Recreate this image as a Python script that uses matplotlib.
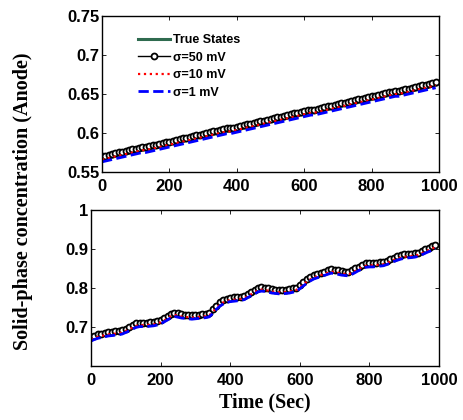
import numpy as np
import matplotlib.pyplot as plt

# ------------------------------------------------------------
# Data (one sample every 10 s)
# ------------------------------------------------------------
time_s = np.arange(0, 1000, 10)

# top panel
top_true = [
    0.566, 0.567, 0.568, 0.569, 0.570, 0.571, 0.572, 0.573, 0.574, 0.575,
    0.576, 0.577, 0.578, 0.578, 0.579, 0.580, 0.581, 0.582, 0.583, 0.584,
    0.585, 0.586, 0.587, 0.588, 0.589, 0.590, 0.591, 0.592, 0.593, 0.594,
    0.595, 0.596, 0.597, 0.598, 0.599, 0.600, 0.601, 0.602, 0.602, 0.603,
    0.604, 0.605, 0.606, 0.607, 0.608, 0.609, 0.610, 0.611, 0.612, 0.613,
    0.614, 0.615, 0.616, 0.617, 0.618, 0.619, 0.620, 0.621, 0.622, 0.623,
    0.624, 0.625, 0.626, 0.626, 0.627, 0.628, 0.629, 0.630, 0.631, 0.632,
    0.633, 0.634, 0.635, 0.636, 0.637, 0.638, 0.639, 0.640, 0.641, 0.642,
    0.643, 0.644, 0.645, 0.646, 0.647, 0.648, 0.649, 0.650, 0.650, 0.651,
    0.652, 0.653, 0.654, 0.655, 0.656, 0.657, 0.658, 0.659, 0.660, 0.661,
]
top_sig50 = [
    0.570, 0.571, 0.572, 0.573, 0.574, 0.575, 0.576, 0.577, 0.578, 0.579,
    0.580, 0.581, 0.582, 0.582, 0.583, 0.584, 0.585, 0.586, 0.587, 0.588,
    0.589, 0.590, 0.591, 0.592, 0.593, 0.594, 0.595, 0.596, 0.597, 0.598,
    0.599, 0.600, 0.601, 0.602, 0.603, 0.604, 0.605, 0.606, 0.606, 0.607,
    0.608, 0.609, 0.610, 0.611, 0.612, 0.613, 0.614, 0.615, 0.616, 0.617,
    0.618, 0.619, 0.620, 0.621, 0.622, 0.623, 0.624, 0.625, 0.626, 0.627,
    0.628, 0.629, 0.630, 0.630, 0.631, 0.632, 0.633, 0.634, 0.635, 0.636,
    0.637, 0.638, 0.639, 0.640, 0.641, 0.642, 0.643, 0.644, 0.645, 0.646,
    0.647, 0.648, 0.649, 0.650, 0.651, 0.652, 0.653, 0.654, 0.654, 0.655,
    0.656, 0.657, 0.658, 0.659, 0.660, 0.661, 0.662, 0.663, 0.664, 0.665,
]
top_sig10 = top_true
top_sig1 = [
    0.563, 0.564, 0.565, 0.566, 0.567, 0.568, 0.569, 0.570, 0.571, 0.572,
    0.573, 0.574, 0.575, 0.575, 0.576, 0.577, 0.578, 0.579, 0.580, 0.581,
    0.582, 0.583, 0.584, 0.585, 0.586, 0.587, 0.588, 0.589, 0.590, 0.591,
    0.592, 0.593, 0.594, 0.595, 0.596, 0.597, 0.598, 0.599, 0.599, 0.600,
    0.601, 0.602, 0.603, 0.604, 0.605, 0.606, 0.607, 0.608, 0.609, 0.610,
    0.611, 0.612, 0.613, 0.614, 0.615, 0.616, 0.617, 0.618, 0.619, 0.620,
    0.621, 0.622, 0.623, 0.623, 0.624, 0.625, 0.626, 0.627, 0.628, 0.629,
    0.630, 0.631, 0.632, 0.633, 0.634, 0.635, 0.636, 0.637, 0.638, 0.639,
    0.640, 0.641, 0.642, 0.643, 0.644, 0.645, 0.646, 0.647, 0.647, 0.648,
    0.649, 0.650, 0.651, 0.652, 0.653, 0.654, 0.655, 0.656, 0.657, 0.658,
]

# bottom panel
bot_true = [
    0.668, 0.672, 0.675, 0.677, 0.679, 0.681, 0.682, 0.683, 0.684, 0.686,
    0.690, 0.694, 0.699, 0.703, 0.705, 0.705, 0.705, 0.706, 0.707, 0.709,
    0.712, 0.717, 0.722, 0.728, 0.731, 0.729, 0.727, 0.726, 0.725, 0.724,
    0.725, 0.726, 0.727, 0.728, 0.730, 0.739, 0.749, 0.757, 0.763, 0.767,
    0.769, 0.770, 0.771, 0.772, 0.774, 0.779, 0.784, 0.789, 0.794, 0.796,
    0.795, 0.793, 0.791, 0.790, 0.789, 0.789, 0.790, 0.791, 0.793, 0.795,
    0.802, 0.809, 0.816, 0.822, 0.827, 0.830, 0.833, 0.836, 0.839, 0.842,
    0.841, 0.839, 0.837, 0.836, 0.835, 0.839, 0.844, 0.849, 0.854, 0.857,
    0.858, 0.858, 0.859, 0.860, 0.861, 0.864, 0.868, 0.872, 0.875, 0.878,
    0.880, 0.881, 0.882, 0.883, 0.885, 0.889, 0.893, 0.897, 0.901, 0.905,
]
bot_sig50 = [
    0.674, 0.678, 0.681, 0.683, 0.685, 0.687, 0.688, 0.689, 0.690, 0.692,
    0.696, 0.700, 0.705, 0.709, 0.711, 0.711, 0.711, 0.712, 0.713, 0.715,
    0.718, 0.723, 0.728, 0.734, 0.737, 0.735, 0.733, 0.732, 0.731, 0.730,
    0.731, 0.732, 0.733, 0.734, 0.736, 0.745, 0.755, 0.763, 0.769, 0.773,
    0.775, 0.776, 0.777, 0.778, 0.780, 0.785, 0.790, 0.795, 0.800, 0.802,
    0.801, 0.799, 0.797, 0.796, 0.795, 0.795, 0.796, 0.797, 0.799, 0.801,
    0.808, 0.815, 0.822, 0.828, 0.833, 0.836, 0.839, 0.842, 0.845, 0.848,
    0.847, 0.845, 0.843, 0.842, 0.841, 0.845, 0.850, 0.855, 0.860, 0.863,
    0.864, 0.864, 0.865, 0.866, 0.867, 0.870, 0.874, 0.878, 0.881, 0.884,
    0.886, 0.887, 0.888, 0.889, 0.891, 0.895, 0.899, 0.903, 0.907, 0.911,
]
bot_sig10 = bot_true
bot_sig1 = [
    0.664, 0.668, 0.671, 0.673, 0.675, 0.677, 0.678, 0.679, 0.680, 0.682,
    0.686, 0.690, 0.695, 0.699, 0.701, 0.701, 0.701, 0.702, 0.703, 0.705,
    0.708, 0.713, 0.718, 0.724, 0.727, 0.725, 0.723, 0.722, 0.721, 0.720,
    0.721, 0.722, 0.723, 0.724, 0.726, 0.735, 0.745, 0.753, 0.759, 0.763,
    0.765, 0.766, 0.767, 0.768, 0.770, 0.775, 0.780, 0.785, 0.790, 0.792,
    0.791, 0.789, 0.787, 0.786, 0.785, 0.785, 0.786, 0.787, 0.789, 0.791,
    0.798, 0.805, 0.812, 0.818, 0.823, 0.826, 0.829, 0.832, 0.835, 0.838,
    0.837, 0.835, 0.833, 0.832, 0.831, 0.835, 0.840, 0.845, 0.850, 0.853,
    0.854, 0.854, 0.855, 0.856, 0.857, 0.860, 0.864, 0.868, 0.871, 0.874,
    0.876, 0.877, 0.878, 0.879, 0.881, 0.885, 0.889, 0.893, 0.897, 0.901,
]

series_labels = ["True States", "σ=50 mV", "σ=10 mV", "σ=1 mV"]
x_ticks = [0, 200, 400, 600, 800, 1000]
top_yticks = [0.55, 0.6, 0.65, 0.7, 0.75]
bot_yticks = [0.7, 0.8, 0.9, 1.0]

# ------------------------------------------------------------
# Plot
# ------------------------------------------------------------
plt.rcParams.update({
    "font.family": "Liberation Sans",
    "font.weight": "bold",
    "xtick.direction": "in",
    "ytick.direction": "in",
    "xtick.top": True,
    "ytick.right": True,
    "xtick.major.size": 3,
    "ytick.major.size": 3,
    "xtick.major.width": 0.6,
    "ytick.major.width": 0.6,
    "axes.linewidth": 1.0,
})

fig = plt.figure(figsize=(4.63, 4.2), dpi=100)
ax1 = fig.add_axes([0.2203, 0.5905, 0.728, 0.3714])
ax2 = fig.add_axes([0.1965, 0.1286, 0.7516, 0.3714])


def draw(ax, true, s50, s10, s1):
    ax.plot(time_s, true, color="#2f6b4f", lw=2.2, label=series_labels[0])
    ax.plot(time_s, s50, color="black", lw=1.0, marker="o", ms=4.3,
            mfc="white", mec="black", mew=1.3, label=series_labels[1])
    ax.plot(time_s, s10, color="red", ls=":", lw=1.6, label=series_labels[2])
    ax.plot(time_s, s1, color="blue", ls="--", lw=2.0, label=series_labels[3])
    ax.set_xlim(0, 1000)
    ax.set_xticks(x_ticks)
    ax.tick_params(labelsize=12)
    ax.tick_params(axis="x", pad=5)
    ax.tick_params(axis="y", pad=2)
    for lab in ax.get_xticklabels() + ax.get_yticklabels():
        lab.set_fontweight("bold")


draw(ax1, top_true, top_sig50, top_sig10, top_sig1)
ax1.set_ylim(0.55, 0.75)
ax1.set_yticks(top_yticks)
ax1.set_yticklabels(["0.55", "0.6", "0.65", "0.7", "0.75"])

draw(ax2, bot_true, bot_sig50, bot_sig10, bot_sig1)
ax2.set_ylim(0.6, 1.0)
ax2.set_yticks(bot_yticks)
ax2.set_yticklabels(["0.7", "0.8", "0.9", "1"])

leg = ax1.legend(loc="upper left", bbox_to_anchor=(0.108, 0.885), frameon=False,
                 prop={"family": "Liberation Sans", "weight": "bold", "size": 9},
                 handlelength=2.5, handletextpad=0.3, labelspacing=0.45,
                 borderpad=0, borderaxespad=0)

fig.text(0.049, 0.52, "Solid-phase concentration (Anode)", rotation=90,
         ha="center", va="center", fontsize=14.5, fontweight="bold",
         family="Liberation Serif")
ax2.set_xlabel("Time (Sec)", fontsize=14.5, fontweight="bold",
               family="Liberation Serif", labelpad=3)

fig.savefig("out.png", dpi=100)
